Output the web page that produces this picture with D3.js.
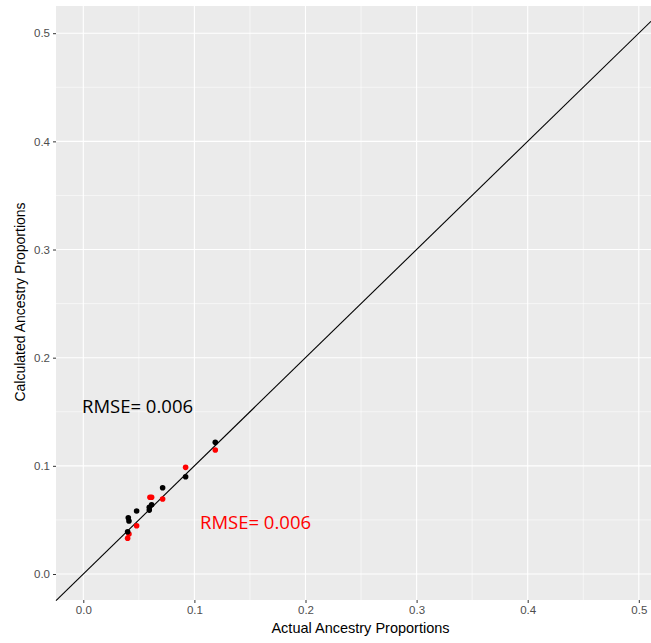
<!DOCTYPE html>
<html><head><meta charset="utf-8">
<script src="https://cdn.jsdelivr.net/npm/d3@7"></script>
<style>body{margin:0;background:#fff;} svg{display:block;}</style>
</head><body>
<script>
const blackActual = [0.1188,0.0921,0.0714,0.0615,0.0594,0.0594,0.0480,0.0405,0.0411,0.0399];
const blackCalc   = [0.1217,0.0899,0.0798,0.0640,0.0616,0.0591,0.0582,0.0520,0.0490,0.0390];
const redActual   = [0.1188,0.0921,0.0600,0.0615,0.0714,0.0480,0.0411,0.0399];
const redCalc     = [0.1146,0.0986,0.0709,0.0709,0.0693,0.0446,0.0370,0.0330];
const xTicks = [0.0,0.1,0.2,0.3,0.4,0.5];
const yTicks = [0.0,0.1,0.2,0.3,0.4,0.5];
const xTitle = "Actual Ancestry Proportions";
const yTitle = "Calculated Ancestry Proportions";
const rmseLabels = ["RMSE= 0.006","RMSE= 0.006"];

(function(){
const W=651,H=643;
const pL=56,pR=651,pT=6,pB=600;
const x=d3.scaleLinear().domain([0,0.5]).range([83.3,638.8]);
const y=d3.scaleLinear().domain([0,0.5]).range([574,33.2]);
const svg=d3.select("body").append("svg").attr("width",W).attr("height",H);
svg.append("rect").attr("x",pL).attr("y",pT).attr("width",pR-pL).attr("height",pB-pT).attr("fill","#EBEBEB");
const g=svg.append("g");
const minor=[0.05,0.15,0.25,0.35,0.45];
g.selectAll(".vx").data(minor).join("line").attr("class","vx").attr("x1",d=>x(d)).attr("x2",d=>x(d)).attr("y1",pT).attr("y2",pB).attr("stroke","#fff").attr("stroke-width",0.55);
g.selectAll(".hy").data(minor).join("line").attr("class","hy").attr("y1",d=>y(d)).attr("y2",d=>y(d)).attr("x1",pL).attr("x2",pR).attr("stroke","#fff").attr("stroke-width",0.55);
g.selectAll(".VX").data(xTicks).join("line").attr("class","VX").attr("x1",d=>x(d)).attr("x2",d=>x(d)).attr("y1",pT).attr("y2",pB).attr("stroke","#fff").attr("stroke-width",1.1);
g.selectAll(".HY").data(yTicks).join("line").attr("class","HY").attr("y1",d=>y(d)).attr("y2",d=>y(d)).attr("x1",pL).attr("x2",pR).attr("stroke","#fff").attr("stroke-width",1.1);

const d0=x.invert(pL), d1=x.invert(pR);
svg.append("line").attr("x1",x(d0)).attr("y1",y(d0)).attr("x2",x(d1)).attr("y2",y(d1)).attr("stroke","#000").attr("stroke-width",1.1);

const xAxis=d3.axisBottom(x).tickValues(xTicks).tickFormat(d3.format(".1f")).tickSize(3).tickPadding(3);
const xa=svg.append("g").attr("transform",`translate(0,${pB})`).call(xAxis);
const yAxis=d3.axisLeft(y).tickValues(yTicks).tickFormat(d3.format(".1f")).tickSize(3).tickPadding(3);
const ya=svg.append("g").attr("transform",`translate(${pL},0)`).call(yAxis);
[xa,ya].forEach(a=>{a.select(".domain").remove();a.selectAll("line").attr("stroke","#333");a.selectAll("text").attr("fill","#4D4D4D").style("font-family","Liberation Sans, Arial").style("font-size","11.5px");});

const red=redActual.map((v,i)=>[v,redCalc[i]]);
const blk=blackActual.map((v,i)=>[v,blackCalc[i]]);
svg.append("g").selectAll("circle").data(red).join("circle").attr("cx",d=>x(d[0])).attr("cy",d=>y(d[1])).attr("r",2.8).attr("fill","#FF0000");
svg.append("g").selectAll("circle").data(blk).join("circle").attr("cx",d=>x(d[0])).attr("cy",d=>y(d[1])).attr("r",2.8).attr("fill","#000");

svg.append("text").attr("x",(pL+pR)/2+7).attr("y",633).attr("text-anchor","middle").style("font-family","Liberation Sans, Arial").style("font-size","14.5px").attr("fill","#000").text(xTitle);
svg.append("text").attr("transform",`translate(25,${302}) rotate(-90)`).attr("text-anchor","middle").style("font-family","Liberation Sans, Arial").style("font-size","14px").attr("fill","#000").text(yTitle);

svg.append("text").attr("x",82).attr("y",413).style("font-family","Open Sans, sans-serif").style("font-size","18.5px").attr("fill","#000").text(rmseLabels[0]);
svg.append("text").attr("x",200).attr("y",529).style("font-family","Open Sans, sans-serif").style("font-size","18.5px").attr("fill","#FF0000").text(rmseLabels[1]);
})();
</script>
</body></html>
